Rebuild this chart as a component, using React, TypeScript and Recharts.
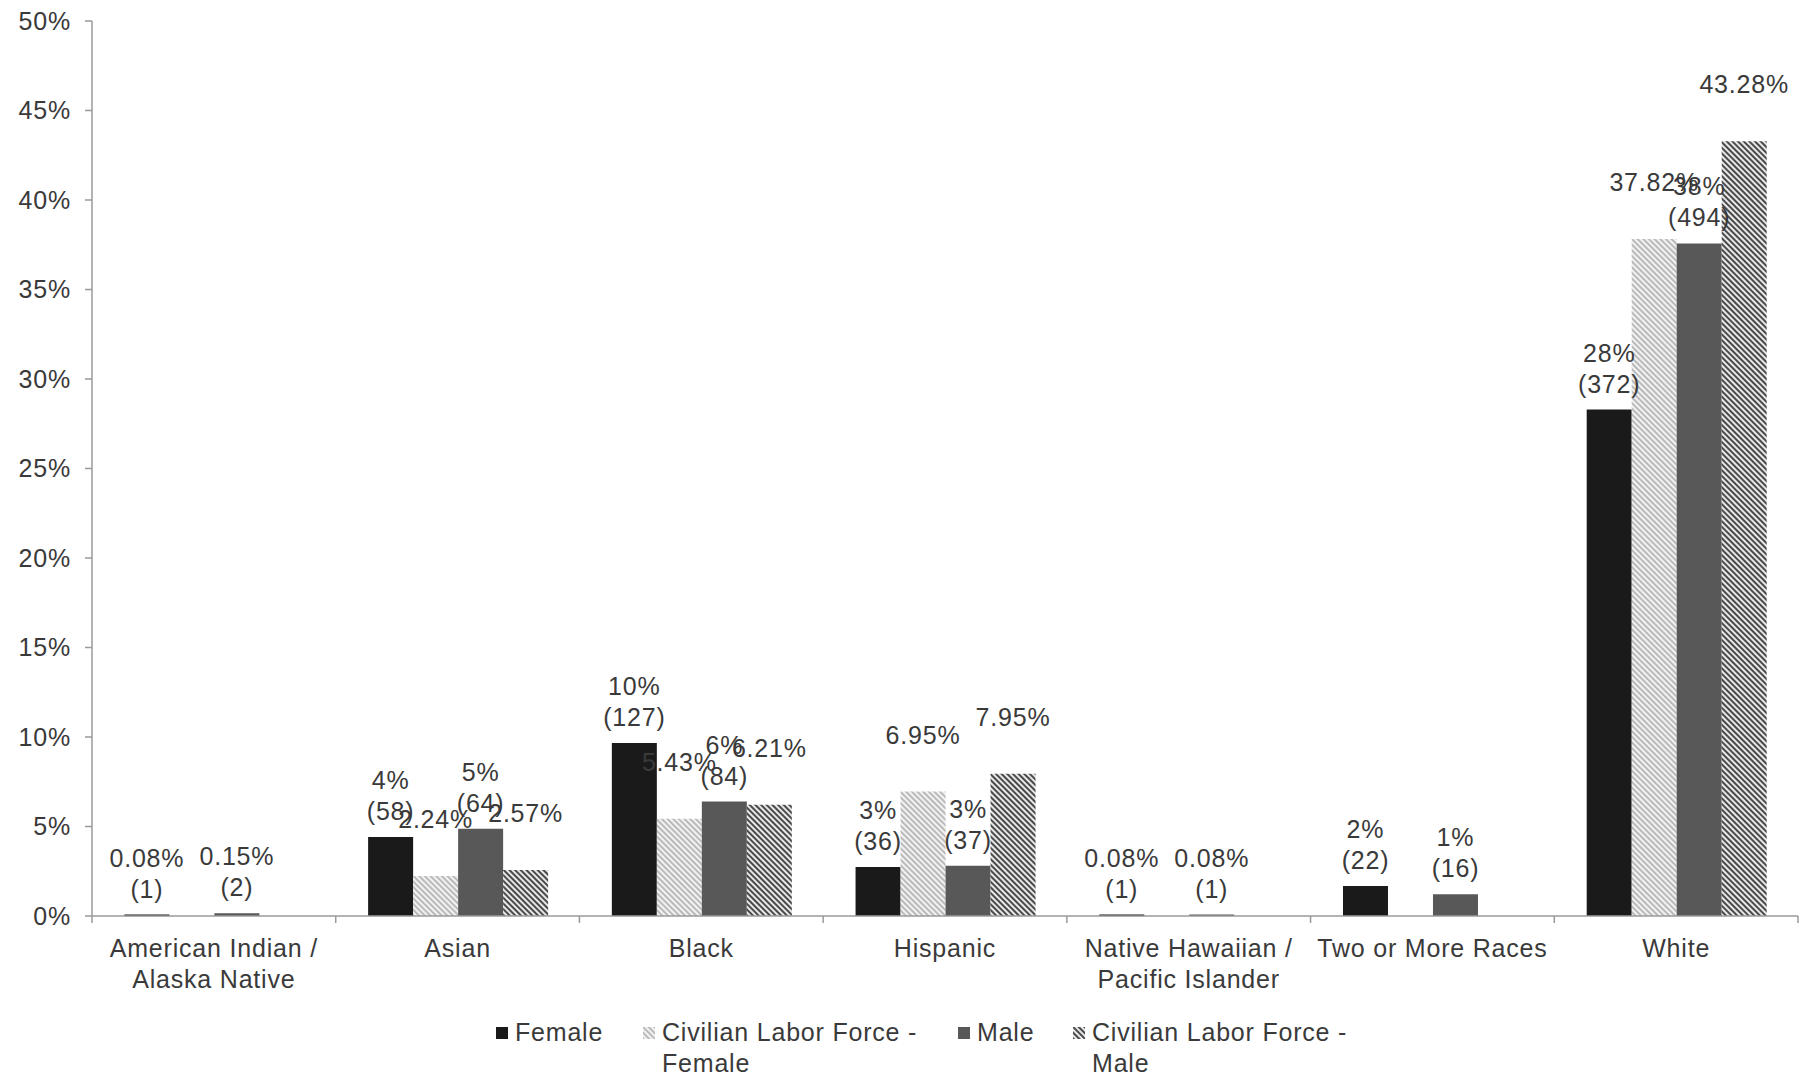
import React from "react";
import { BarChart, Bar, XAxis, YAxis, LabelList } from "recharts";

const categories = [
  "American Indian /\nAlaska Native",
  "Asian",
  "Black",
  "Hispanic",
  "Native Hawaiian /\nPacific Islander",
  "Two or More Races",
  "White",
];

// percentages of the workforce, with headcounts for the agency series
const femalePct = [0.08, 4.41, 9.66, 2.74, 0.08, 1.67, 28.29];
const femaleCount = [1, 58, 127, 36, 1, 22, 372];
const clfFemalePct = [null, 2.24, 5.43, 6.95, null, null, 37.82];
const malePct = [0.15, 4.87, 6.39, 2.81, 0.08, 1.22, 37.57];
const maleCount = [2, 64, 84, 37, 1, 16, 494];
const clfMalePct = [null, 2.57, 6.21, 7.95, null, null, 43.28];

const yTicks = [0, 5, 10, 15, 20, 25, 30, 35, 40, 45, 50];

const data = categories.map((name, i) => ({
  name,
  female: femalePct[i],
  clfFemale: clfFemalePct[i],
  male: malePct[i],
  clfMale: clfMalePct[i],
}));

const FONT = '"Liberation Sans", Arial, sans-serif';
const TEXT = "#3a3a3a";
const AXIS = "#9a9a9a";

const W = 1802;
const H = 1076;
const PLOT_LEFT = 92;
const PLOT_RIGHT = 1798;
const BAND = (PLOT_RIGHT - PLOT_LEFT) / categories.length;

const pctText = (v: number) => (v < 1 ? `${v}%` : `${Math.round(v)}%`);

const makeLabel = (counts: number[] | null) => (props: any) => {
  const { x, y, width, value, index } = props;
  if (value == null) return null;
  const cx = Number(x) + Number(width) / 2;
  const top = Number(y);
  const first = counts ? pctText(value) : `${value}%`;
  return (
    <g>
      <text x={cx} y={top - 57} textAnchor="middle" dominantBaseline="central"
        fontSize={25} fill={TEXT} fontFamily={FONT} letterSpacing={0.8}>
        {first}
      </text>
      {counts && (
        <text x={cx} y={top - 26} textAnchor="middle" dominantBaseline="central"
          fontSize={25} fill={TEXT} fontFamily={FONT} letterSpacing={0.8}>
          {`(${counts[index]})`}
        </text>
      )}
    </g>
  );
};

const CategoryTick = (props: any) => {
  const { x, y, payload, index } = props;
  const lines = String(payload.value).split("\n");
  const left = x - BAND / 2;
  return (
    <g>
      <line x1={left} x2={left} y1={y} y2={y + 7} stroke={AXIS} strokeWidth={1.5} />
      {index === categories.length - 1 && (
        <line x1={x + BAND / 2} x2={x + BAND / 2} y1={y} y2={y + 7} stroke={AXIS} strokeWidth={1.5} />
      )}
      {lines.map((l, i) => (
        <text key={i} x={x} y={y + 32 + i * 31} textAnchor="middle" dominantBaseline="central"
          fontSize={25} fill={TEXT} fontFamily={FONT} letterSpacing={0.8}>
          {l}
        </text>
      ))}
    </g>
  );
};

const legendItems = [
  { label: "Female", fill: "#1a1a1a", width: 90 },
  { label: "Civilian Labor Force - Female", fill: "url(#clfF)", width: 258 },
  { label: "Male", fill: "#585858", width: 58 },
  { label: "Civilian Labor Force - Male", fill: "url(#clfM)", width: 258 },
];

function Patterns() {
  return (
    <defs>
      <pattern id="clfF" patternUnits="userSpaceOnUse" width={4} height={4} patternTransform="rotate(-45)">
        <rect width={4} height={4} fill="#f2f2f2" />
        <rect width={1.8} height={4} fill="#b4b4b4" />
      </pattern>
      <pattern id="clfM" patternUnits="userSpaceOnUse" width={4} height={4} patternTransform="rotate(-45)">
        <rect width={4} height={4} fill="#e8e8e8" />
        <rect width={2} height={4} fill="#4a4a4a" />
      </pattern>
    </defs>
  );
}

export default function App() {
  return (
    <div style={{ position: "absolute", left: 0, top: 0, width: W, height: H, background: "#fff" }}>
      <BarChart
        width={W}
        height={H}
        data={data}
        margin={{ top: 21, right: W - PLOT_RIGHT, bottom: 60, left: 0 }}
        barCategoryGap="13.3%"
        barGap={0}
      >
        <Patterns />
        <XAxis
          dataKey="name"
          height={100}
          interval={0}
          tickLine={false}
          tickSize={0}
          tickMargin={0}
          axisLine={{ stroke: AXIS, strokeWidth: 1.5 }}
          tick={<CategoryTick />}
        />
        <YAxis
          width={PLOT_LEFT}
          domain={[0, 50]}
          ticks={yTicks}
          interval={0}
          tickFormatter={(v) => `${v}%`}
          tickSize={7}
          tickMargin={14}
          tickLine={{ stroke: AXIS, strokeWidth: 1.5 }}
          axisLine={{ stroke: AXIS, strokeWidth: 1.5 }}
          tick={{ fontSize: 25, fill: TEXT, fontFamily: FONT, letterSpacing: 0.8 }}
        />
        <Bar dataKey="female" fill="#1a1a1a" isAnimationActive={false}>
          <LabelList dataKey="female" content={makeLabel(femaleCount)} />
        </Bar>
        <Bar dataKey="clfFemale" fill="url(#clfF)" isAnimationActive={false}>
          <LabelList dataKey="clfFemale" content={makeLabel(null)} />
        </Bar>
        <Bar dataKey="male" fill="#585858" isAnimationActive={false}>
          <LabelList dataKey="male" content={makeLabel(maleCount)} />
        </Bar>
        <Bar dataKey="clfMale" fill="url(#clfM)" isAnimationActive={false}>
          <LabelList dataKey="clfMale" content={makeLabel(null)} />
        </Bar>
      </BarChart>

      <div
        style={{
          position: "absolute",
          left: 496,
          top: 1017,
          display: "flex",
          alignItems: "flex-start",
          gap: 38,
          fontFamily: FONT,
          fontSize: 25,
          lineHeight: "31px",
          letterSpacing: 0.8,
          color: TEXT,
        }}
      >
        {legendItems.map((it) => (
          <div key={it.label} style={{ display: "flex", alignItems: "flex-start" }}>
            <svg width={12} height={31} style={{ marginRight: 7, flex: "none" }}>
              <defs>
                <pattern id="lgF" patternUnits="userSpaceOnUse" width={4} height={4} patternTransform="rotate(-45)">
                  <rect width={4} height={4} fill="#f2f2f2" />
                  <rect width={1.8} height={4} fill="#b4b4b4" />
                </pattern>
                <pattern id="lgM" patternUnits="userSpaceOnUse" width={4} height={4} patternTransform="rotate(-45)">
                  <rect width={4} height={4} fill="#e8e8e8" />
                  <rect width={2} height={4} fill="#4a4a4a" />
                </pattern>
              </defs>
              <rect
                x={0}
                y={10}
                width={12}
                height={12}
                fill={it.fill === "url(#clfF)" ? "url(#lgF)" : it.fill === "url(#clfM)" ? "url(#lgM)" : it.fill}
              />
            </svg>
            <div style={{ width: it.width }}>{it.label}</div>
          </div>
        ))}
      </div>
    </div>
  );
}
